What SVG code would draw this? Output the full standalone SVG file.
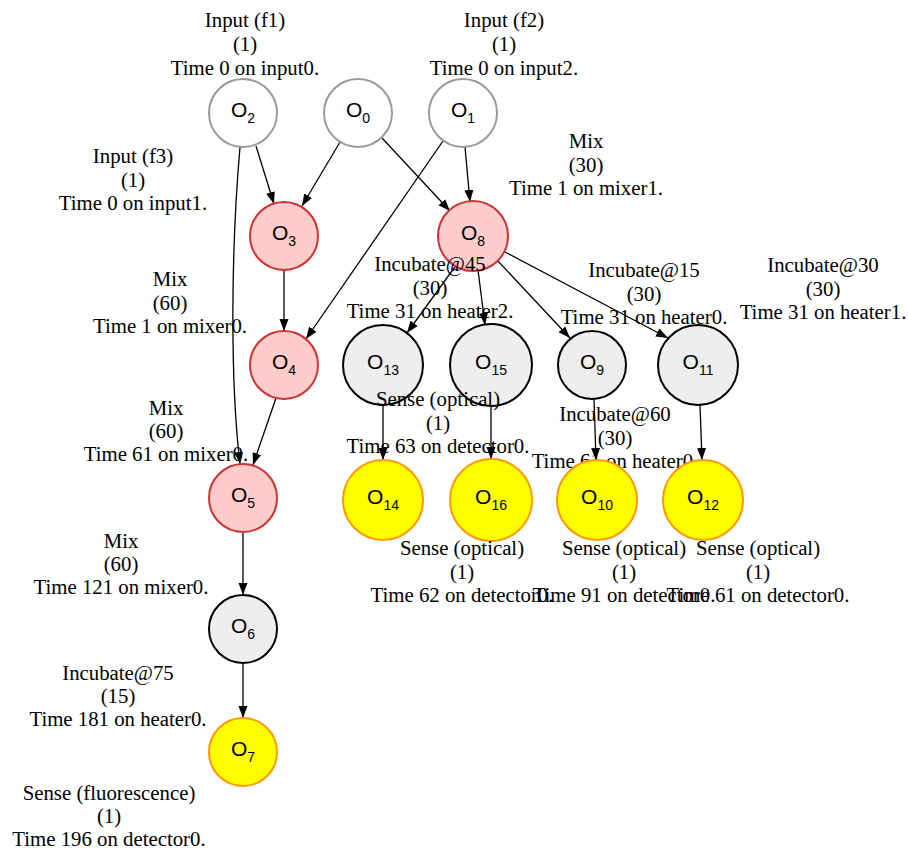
<svg xmlns="http://www.w3.org/2000/svg" width="908" height="853" viewBox="0 0 908 853">
<defs>
<marker id="arr" markerUnits="userSpaceOnUse" markerWidth="13" markerHeight="10" refX="12" refY="5" orient="auto">
<path d="M0,0.5 L12,5 L0,9.5 z" fill="#000"/>
</marker>
<style>
.in{fill:#ffffff;stroke:#9a9a9a;stroke-width:2}
.mx{fill:#ffcccc;stroke:#cc3333;stroke-width:2}
.gr{fill:#eeeeee;stroke:#000000;stroke-width:2}
.ye{fill:#ffff00;stroke:#ff9900;stroke-width:2}
.nl{font-family:"Liberation Sans",Arial,sans-serif;font-size:21px;fill:#000;text-anchor:middle}
.sb{font-size:14px}
.lb{font-family:"Liberation Serif","Times New Roman",serif;font-size:20.8px;fill:#000;text-anchor:middle}
.e{fill:none;stroke:#000;stroke-width:1.3;marker-end:url(#arr)}
</style>
</defs>
<rect width="908" height="853" fill="#fff"/>
<g id="connectors">
<path class="e" d="M256,146 L274,204"/>
<path class="e" d="M340,142 L302,206"/>
<path class="e" d="M382,138 L450,211"/>
<path class="e" d="M465,147 L470,202"/>
<path class="e" d="M443,141 L306,339"/>
<path class="e" d="M240,147 C231,250 230,380 240,464"/>
<path class="e" d="M284,270 L284,331"/>
<path class="e" d="M276,398 L253,465"/>
<path class="e" d="M243,532 L243,595"/>
<path class="e" d="M243,663 L243,718"/>
<path class="e" d="M457,264 L407,333"/>
<path class="e" d="M478,270 L485,325"/>
<path class="e" d="M497,260 L570,338"/>
<path class="e" d="M505,252 L668,338"/>
<path class="e" d="M383,405 L383,460"/>
<path class="e" d="M491,406 L491,459"/>
<path class="e" d="M594,399 L596,460"/>
<path class="e" d="M700,405 L702,460"/>
</g>
<g id="O2">
<circle class="in" cx="243" cy="113" r="34"/>
<text class="nl" x="243" y="117">O<tspan class="sb" dy="6">2</tspan></text>
<text class="lb" x="245" y="27">Input (f1)</text>
<text class="lb" x="245" y="51">(1)</text>
<text class="lb" x="245" y="75">Time 0 on input0.</text>
</g>
<g id="O0">
<circle class="in" cx="358" cy="113" r="34"/>
<text class="nl" x="358" y="117">O<tspan class="sb" dy="6">0</tspan></text>
<text class="lb" x="133" y="163">Input (f3)</text>
<text class="lb" x="133" y="187">(1)</text>
<text class="lb" x="133" y="210">Time 0 on input1.</text>
</g>
<g id="O1">
<circle class="in" cx="463" cy="113" r="34"/>
<text class="nl" x="463" y="117">O<tspan class="sb" dy="6">1</tspan></text>
<text class="lb" x="504" y="27">Input (f2)</text>
<text class="lb" x="504" y="51">(1)</text>
<text class="lb" x="504" y="75">Time 0 on input2.</text>
</g>
<g id="O3">
<circle class="mx" cx="284" cy="236" r="34"/>
<text class="nl" x="284" y="240">O<tspan class="sb" dy="6">3</tspan></text>
<text class="lb" x="170" y="286">Mix</text>
<text class="lb" x="170" y="309.5">(60)</text>
<text class="lb" x="170" y="333">Time 1 on mixer0.</text>
</g>
<g id="O8">
<circle class="mx" cx="473" cy="236" r="35"/>
<text class="nl" x="473" y="240">O<tspan class="sb" dy="6">8</tspan></text>
<text class="lb" x="586" y="148">Mix</text>
<text class="lb" x="586" y="172">(30)</text>
<text class="lb" x="586" y="195">Time 1 on mixer1.</text>
</g>
<g id="O4">
<circle class="mx" cx="284" cy="365" r="34"/>
<text class="nl" x="284" y="369">O<tspan class="sb" dy="6">4</tspan></text>
<text class="lb" x="166" y="415">Mix</text>
<text class="lb" x="166" y="438">(60)</text>
<text class="lb" x="166" y="461">Time 61 on mixer0.</text>
</g>
<g id="O5">
<circle class="mx" cx="243" cy="498" r="34"/>
<text class="nl" x="243" y="502">O<tspan class="sb" dy="6">5</tspan></text>
<text class="lb" x="121" y="548">Mix</text>
<text class="lb" x="121" y="571">(60)</text>
<text class="lb" x="121" y="594">Time 121 on mixer0.</text>
</g>
<g id="O6">
<circle class="gr" cx="243" cy="629" r="34"/>
<text class="nl" x="243" y="633">O<tspan class="sb" dy="6">6</tspan></text>
<text class="lb" x="118" y="680">Incubate@75</text>
<text class="lb" x="118" y="703">(15)</text>
<text class="lb" x="118" y="726">Time 181 on heater0.</text>
</g>
<g id="O7">
<circle class="ye" cx="243" cy="752" r="34"/>
<text class="nl" x="243" y="756">O<tspan class="sb" dy="6">7</tspan></text>
<text class="lb" x="109" y="800">Sense (fluorescence)</text>
<text class="lb" x="109" y="823">(1)</text>
<text class="lb" x="109" y="846">Time 196 on detector0.</text>
</g>
<g id="O13">
<circle class="gr" cx="383" cy="365" r="40"/>
<text class="nl" x="383" y="369">O<tspan class="sb" dy="6">13</tspan></text>
<text class="lb" x="430" y="271">Incubate@45</text>
<text class="lb" x="430" y="294.5">(30)</text>
<text class="lb" x="430" y="318">Time 31 on heater2.</text>
</g>
<g id="O15">
<circle class="gr" cx="491" cy="365" r="41"/>
<text class="nl" x="491" y="369">O<tspan class="sb" dy="6">15</tspan></text>
<text class="lb" x="615" y="421">Incubate@60</text>
<text class="lb" x="615" y="444.5">(30)</text>
<text class="lb" x="615" y="468">Time 61 on heater0.</text>
</g>
<g id="O9">
<circle class="gr" cx="592" cy="365" r="34"/>
<text class="nl" x="592" y="369">O<tspan class="sb" dy="6">9</tspan></text>
<text class="lb" x="644" y="277">Incubate@15</text>
<text class="lb" x="644" y="300.5">(30)</text>
<text class="lb" x="644" y="324">Time 31 on heater0.</text>
</g>
<g id="O11">
<circle class="gr" cx="698" cy="365" r="40"/>
<text class="nl" x="698" y="369">O<tspan class="sb" dy="6">11</tspan></text>
<text class="lb" x="823" y="272">Incubate@30</text>
<text class="lb" x="823" y="295.5">(30)</text>
<text class="lb" x="823" y="319">Time 31 on heater1.</text>
</g>
<g id="O14">
<circle class="ye" cx="383" cy="500" r="40"/>
<text class="nl" x="383" y="504">O<tspan class="sb" dy="6">14</tspan></text>
<text class="lb" x="438" y="406">Sense (optical)</text>
<text class="lb" x="438" y="429.5">(1)</text>
<text class="lb" x="438" y="453">Time 63 on detector0.</text>
</g>
<g id="O16">
<circle class="ye" cx="491" cy="500" r="41"/>
<text class="nl" x="491" y="504">O<tspan class="sb" dy="6">16</tspan></text>
<text class="lb" x="462" y="555">Sense (optical)</text>
<text class="lb" x="462" y="578.5">(1)</text>
<text class="lb" x="462" y="602">Time 62 on detector0.</text>
</g>
<g id="O10">
<circle class="ye" cx="597" cy="500" r="40"/>
<text class="nl" x="597" y="504">O<tspan class="sb" dy="6">10</tspan></text>
<text class="lb" x="624" y="555">Sense (optical)</text>
<text class="lb" x="624" y="578.5">(1)</text>
<text class="lb" x="624" y="602">Time 91 on detector0.</text>
</g>
<g id="O12">
<circle class="ye" cx="703" cy="500" r="40"/>
<text class="nl" x="703" y="504">O<tspan class="sb" dy="6">12</tspan></text>
<text class="lb" x="758" y="555">Sense (optical)</text>
<text class="lb" x="758" y="578.5">(1)</text>
<text class="lb" x="758" y="602">Time 61 on detector0.</text>
</g>
</svg>
